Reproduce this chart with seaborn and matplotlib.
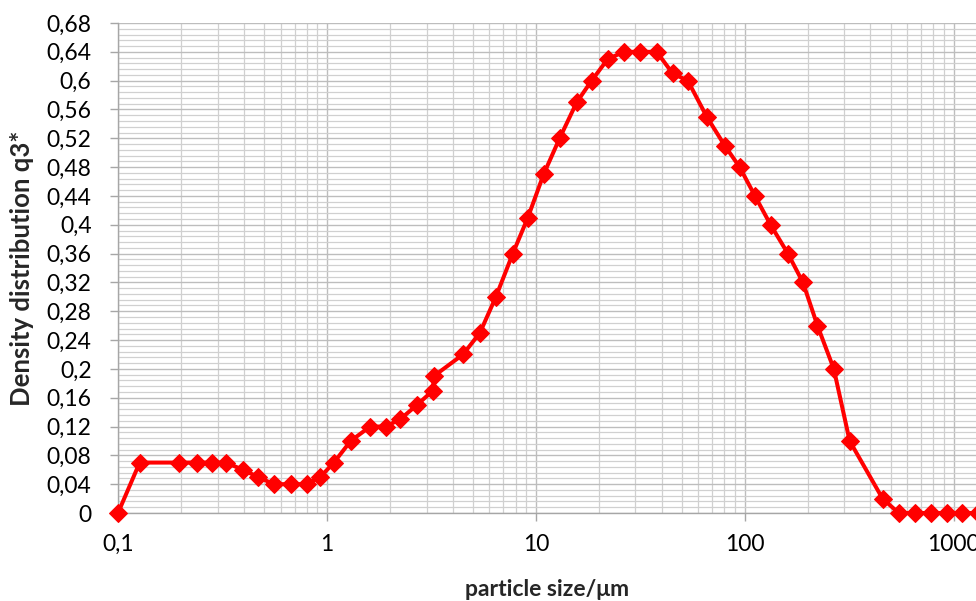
import matplotlib
matplotlib.use("Agg")
import matplotlib.pyplot as plt
import matplotlib.ticker as mticker
import seaborn as sns
import pandas as pd

# particle size (µm) and density distribution q3*
size_um = [0.1, 0.127, 0.196, 0.239, 0.282, 0.329, 0.396, 0.468, 0.557, 0.673,
           0.80, 0.93, 1.08, 1.30, 1.61, 1.91, 2.24, 2.70, 3.22, 3.25,
           4.48, 5.40, 6.44, 7.76, 9.16, 10.9, 13.0, 15.7, 18.5, 22.1,
           26.4, 31.5, 37.9, 45.2, 53.4, 65.8, 80.2, 94.6, 112, 133,
           161, 190, 223, 267, 318, 457, 546, 650, 776, 926, 1092, 1302]
q3 = [0.0, 0.07, 0.07, 0.07, 0.07, 0.07, 0.06, 0.05, 0.04, 0.04,
      0.04, 0.05, 0.07, 0.10, 0.12, 0.12, 0.13, 0.15, 0.17, 0.19,
      0.22, 0.25, 0.30, 0.36, 0.41, 0.47, 0.52, 0.57, 0.60, 0.63,
      0.64, 0.64, 0.64, 0.61, 0.60, 0.55, 0.51, 0.48, 0.44, 0.40,
      0.36, 0.32, 0.26, 0.20, 0.10, 0.02, 0.0, 0.0, 0.0, 0.0, 0.0, 0.0]

x_ticks = [0.1, 1, 10, 100, 1000]
x_tick_labels = ["0,1", "1", "10", "100", "1000"]
y_ticks = [round(0.04 * i, 2) for i in range(18)]

df = pd.DataFrame({"size": size_um, "q3": q3})

sns.set_theme(style="white")
plt.rcParams["font.family"] = ["Lato", "DejaVu Sans"]

fig = plt.figure(figsize=(9.76, 6.01), dpi=100)
ax = fig.add_axes([0.1209, 0.1464, 0.8791, 0.8153])

sns.lineplot(data=df, x="size", y="q3", ax=ax, color="#ff0000", linewidth=2.9,
             marker="D", markersize=9.5, markeredgecolor="#ff0000",
             estimator=None, sort=False, clip_on=False, zorder=5)

ax.set_xscale("log")
ax.set_xlim(0.1, 1280)
ax.set_ylim(0, 0.68)

ax.set_xticks(x_ticks)
ax.set_xticklabels(x_tick_labels)
ax.xaxis.set_minor_locator(mticker.LogLocator(base=10, subs=range(2, 10), numticks=50))
ax.xaxis.set_minor_formatter(mticker.NullFormatter())

def yfmt(v, pos):
    s = f"{v:.2f}".rstrip("0").rstrip(".")
    return s.replace(".", ",")

ax.set_yticks(y_ticks)
ax.yaxis.set_major_formatter(mticker.FuncFormatter(yfmt))
ax.yaxis.set_minor_locator(mticker.MultipleLocator(0.008))

ax.grid(which="major", axis="both", color="#bdbdbd", linewidth=1.0)
ax.grid(which="minor", axis="both", color="#d0d0d0", linewidth=0.9)
ax.set_axisbelow(True)

for side in ["top", "right"]:
    ax.spines[side].set_visible(False)
for side in ["left", "bottom"]:
    ax.spines[side].set_color("#a6a6a6")
    ax.spines[side].set_linewidth(1.0)

ax.tick_params(axis="both", which="major", direction="out", length=6, width=1,
               color="#a6a6a6", labelsize=16.5, labelcolor="black",
               left=True, bottom=True)
ax.tick_params(axis="both", which="minor", length=0)
ax.tick_params(axis="y", which="major", pad=13)
ax.tick_params(axis="x", which="major", pad=9)

ax.set_xlabel("particle size/μm", fontsize=16.5, fontweight="bold")
ax.set_ylabel("Density distribution q3*", fontsize=18.5, fontweight="bold")
ax.xaxis.set_label_coords(0.5, -0.157)
ax.xaxis.label.set_va("center")
ax.yaxis.set_label_coords(-0.112, 0.5)
ax.yaxis.label.set_va("center")

fig.savefig("out.png", dpi=100)
